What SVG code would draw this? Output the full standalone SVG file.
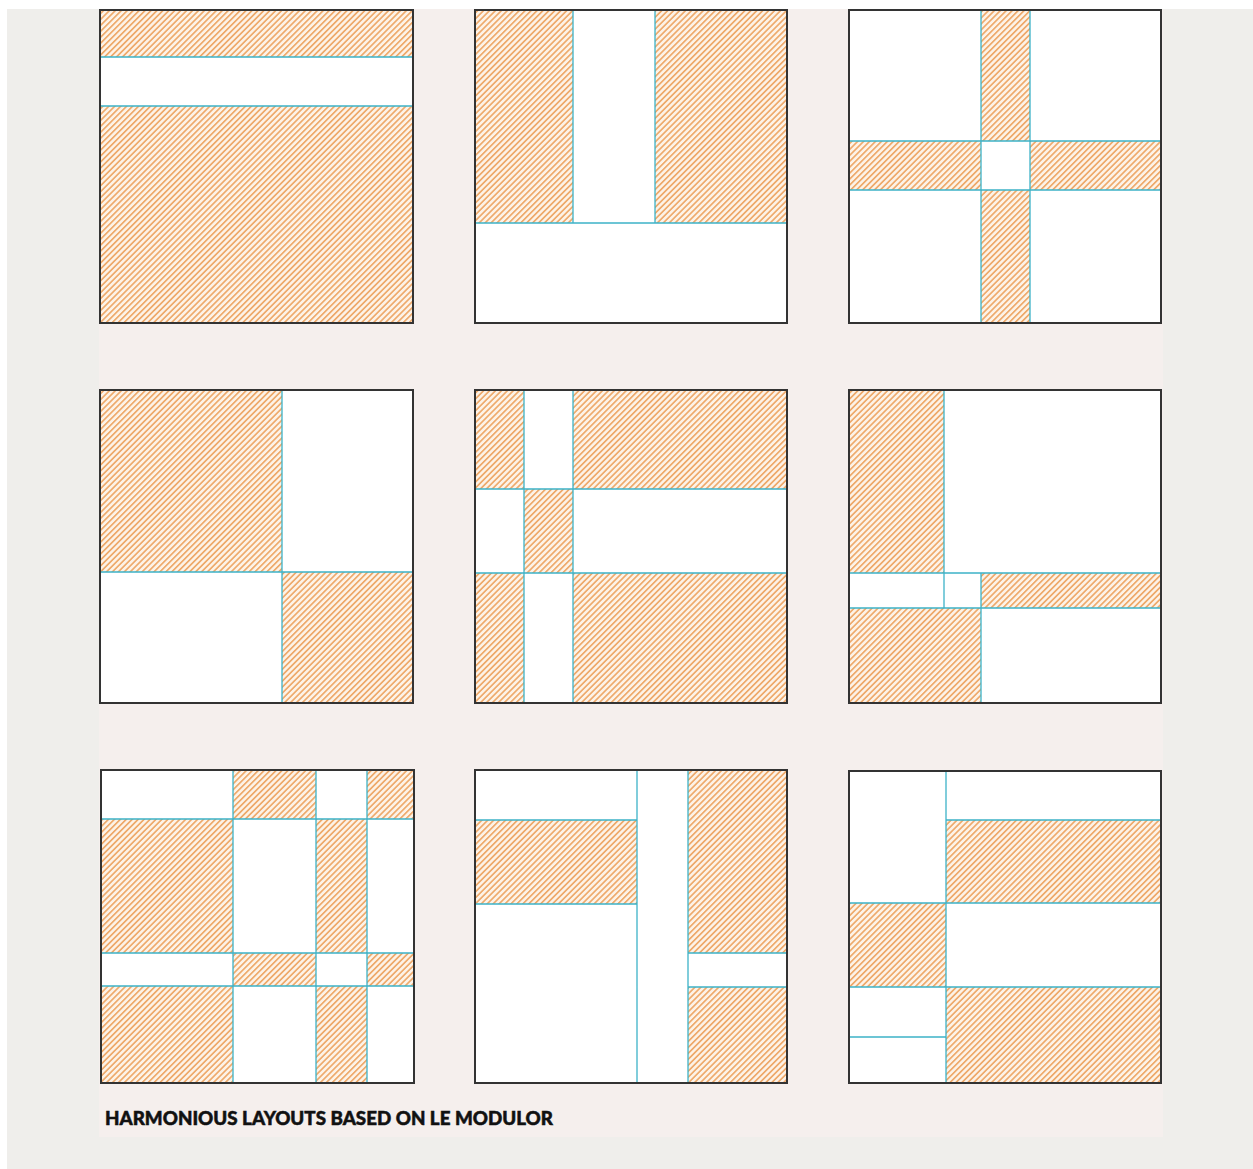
<svg xmlns="http://www.w3.org/2000/svg" width="1253" height="1169" viewBox="0 0 1253 1169">
<defs>
<pattern id="hatch" patternUnits="userSpaceOnUse" width="4.2" height="10" patternTransform="rotate(45)">
<rect width="4.2" height="10" fill="#fdf3e8"/>
<rect width="1.7" height="10" fill="#eeaa6c"/>
</pattern>
</defs>
<style>
.bg{fill:#ffffff}
.h{fill:url(#hatch)}
.g{stroke:#3db3c8;stroke-width:1.3;fill:none}
.b{fill:none;stroke:#333333;stroke-width:2}
.t{font-family:"Lato","Open Sans","Liberation Sans",sans-serif;font-weight:900;font-size:18.5px;fill:#111111;stroke:#111111;stroke-width:0.5}
</style>
<rect x="0" y="0" width="1253" height="1169" fill="#ffffff"/>
<rect x="7" y="9" width="1246" height="1160" fill="#efeeeb"/>
<rect x="99" y="9" width="1064" height="1128" fill="#f5efed"/>

<g id="layout1">
<rect class="bg" x="100" y="10" width="313" height="313"/>
<rect class="h" x="100" y="10" width="313" height="47"/>
<rect class="h" x="100" y="106" width="313" height="217"/>
<path class="g" d="M100 57H413M100 106H413"/>
<rect class="b" x="100" y="10" width="313" height="313"/>
</g>

<g id="layout2">
<rect class="bg" x="475" y="10" width="312" height="313"/>
<rect class="h" x="475" y="10" width="98" height="213"/>
<rect class="h" x="655" y="10" width="132" height="213"/>
<path class="g" d="M573 10V223M655 10V223M475 223H787"/>
<rect class="b" x="475" y="10" width="312" height="313"/>
</g>

<g id="layout3">
<rect class="bg" x="849" y="10" width="312" height="313"/>
<rect class="h" x="981" y="10" width="49" height="131"/>
<rect class="h" x="981" y="190" width="49" height="133"/>
<rect class="h" x="849" y="141" width="132" height="49"/>
<rect class="h" x="1030" y="141" width="131" height="49"/>
<path class="g" d="M981 10V323M1030 10V323M849 141H1161M849 190H1161"/>
<rect class="b" x="849" y="10" width="312" height="313"/>
</g>

<g id="layout4">
<rect class="bg" x="100" y="390" width="313" height="313"/>
<rect class="h" x="100" y="390" width="182" height="182"/>
<rect class="h" x="282" y="572" width="131" height="131"/>
<path class="g" d="M282 390V703M100 572H413"/>
<rect class="b" x="100" y="390" width="313" height="313"/>
</g>

<g id="layout5">
<rect class="bg" x="475" y="390" width="312" height="313"/>
<rect class="h" x="475" y="390" width="49" height="99"/>
<rect class="h" x="573" y="390" width="214" height="99"/>
<rect class="h" x="524" y="489" width="49" height="84"/>
<rect class="h" x="475" y="573" width="49" height="130"/>
<rect class="h" x="573" y="573" width="214" height="130"/>
<path class="g" d="M524 390V703M573 390V703M475 489H787M475 573H787"/>
<rect class="b" x="475" y="390" width="312" height="313"/>
</g>

<g id="layout6">
<rect class="bg" x="849" y="390" width="312" height="313"/>
<rect class="h" x="849" y="390" width="95" height="183"/>
<rect class="h" x="981" y="573" width="180" height="35"/>
<rect class="h" x="849" y="608" width="132" height="95"/>
<path class="g" d="M944 390V608M981 573V703M849 573H1161M849 608H1161"/>
<rect class="b" x="849" y="390" width="312" height="313"/>
</g>

<g id="layout7">
<rect class="bg" x="101" y="770" width="313" height="313"/>
<rect class="h" x="233" y="770" width="83" height="49"/>
<rect class="h" x="367" y="770" width="47" height="49"/>
<rect class="h" x="101" y="819" width="132" height="134"/>
<rect class="h" x="316" y="819" width="51" height="134"/>
<rect class="h" x="233" y="953" width="83" height="33"/>
<rect class="h" x="367" y="953" width="47" height="33"/>
<rect class="h" x="101" y="986" width="132" height="97"/>
<rect class="h" x="316" y="986" width="51" height="97"/>
<path class="g" d="M233 770V1083M316 770V1083M367 770V1083M101 819H414M101 953H414M101 986H414"/>
<rect class="b" x="101" y="770" width="313" height="313"/>
</g>

<g id="layout8">
<rect class="bg" x="475" y="770" width="312" height="313"/>
<rect class="h" x="475" y="820" width="162" height="84"/>
<rect class="h" x="688" y="770" width="99" height="183"/>
<rect class="h" x="688" y="987" width="99" height="96"/>
<path class="g" d="M637 770V1083M688 770V1083M475 820H637M475 904H637M688 953H787M688 987H787"/>
<rect class="b" x="475" y="770" width="312" height="313"/>
</g>

<g id="layout9">
<rect class="bg" x="849" y="771" width="312" height="312"/>
<rect class="h" x="946" y="820" width="215" height="83"/>
<rect class="h" x="849" y="903" width="97" height="84"/>
<rect class="h" x="946" y="987" width="215" height="96"/>
<path class="g" d="M946 771V1083M946 820H1161M849 903H1161M849 987H1161M849 1037H946"/>
<rect class="b" x="849" y="771" width="312" height="312"/>
</g>

<g id="caption">
<text class="t" x="105" y="1125" textLength="448" lengthAdjust="spacingAndGlyphs">HARMONIOUS LAYOUTS BASED ON LE MODULOR</text>
</g>
</svg>
